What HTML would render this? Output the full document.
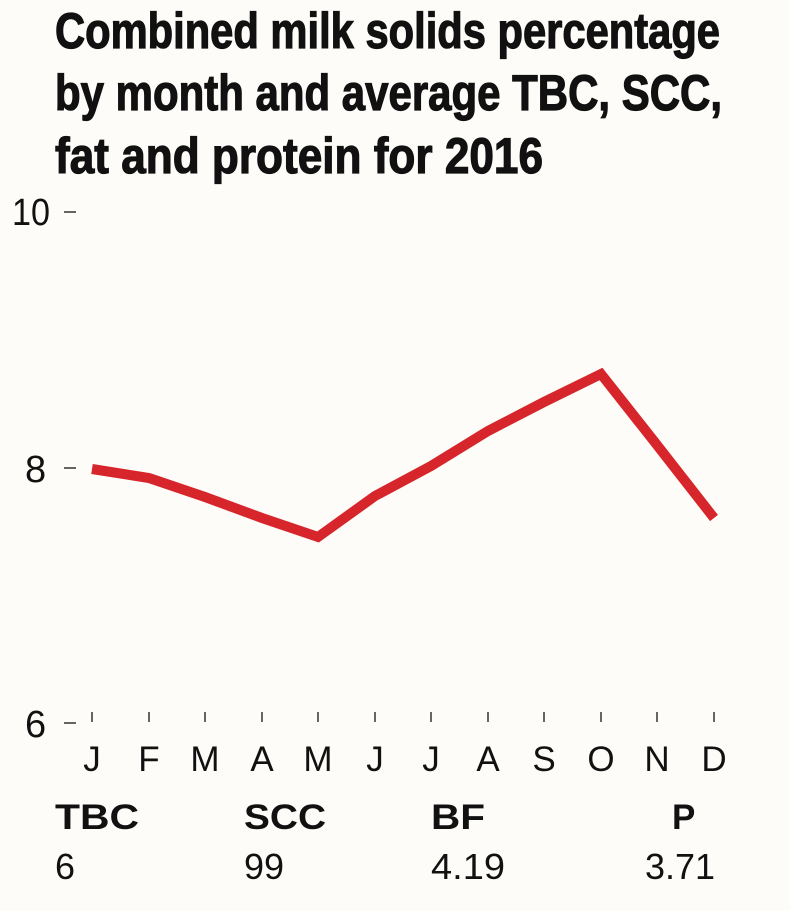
<!DOCTYPE html>
<html><head><style>
html,body{margin:0;padding:0;background:#fdfcf8;}
svg{display:block;}
</style></head><body>
<svg width="790" height="911" viewBox="0 0 790 911" xmlns="http://www.w3.org/2000/svg">
<rect width="790" height="911" fill="#fdfcf8"/>
<g font-family="'Liberation Sans Narrow','Liberation Sans',sans-serif" font-weight="bold" font-size="50" fill="#111" stroke="#111" stroke-width="1.2">
<text x="55" y="48" textLength="665" lengthAdjust="spacingAndGlyphs">Combined milk solids percentage</text>
<text x="55" y="110" textLength="667" lengthAdjust="spacingAndGlyphs">by month and average TBC, SCC,</text>
<text x="55" y="173" textLength="488" lengthAdjust="spacingAndGlyphs">fat and protein for 2016</text>
</g>
<g font-family="'Liberation Sans',sans-serif" font-size="38" fill="#111">
<text x="12" y="225" textLength="38" lengthAdjust="spacingAndGlyphs">10</text>
<text x="25" y="482">8</text>
<text x="25" y="737">6</text>
</g>
<g stroke="#333" stroke-width="1.5">
<line x1="64" y1="212" x2="76" y2="212"/>
<line x1="64" y1="468" x2="76" y2="468"/>
<line x1="64" y1="723" x2="76" y2="723"/>
<line x1="92" y1="712" x2="92" y2="722"/>
<line x1="149" y1="712" x2="149" y2="722"/>
<line x1="205" y1="712" x2="205" y2="722"/>
<line x1="262" y1="712" x2="262" y2="722"/>
<line x1="318" y1="712" x2="318" y2="722"/>
<line x1="375" y1="712" x2="375" y2="722"/>
<line x1="431" y1="712" x2="431" y2="722"/>
<line x1="488" y1="712" x2="488" y2="722"/>
<line x1="544" y1="712" x2="544" y2="722"/>
<line x1="601" y1="712" x2="601" y2="722"/>
<line x1="657" y1="712" x2="657" y2="722"/>
<line x1="714" y1="712" x2="714" y2="722"/>
</g>
<polyline fill="none" stroke="#d7252c" stroke-width="10" stroke-linejoin="miter" points="92,469 149,478 205,497 262,518 318,537 375,496 431,466 488,431 544,402 601,374 657,445 714,518"/>
<g font-family="'Liberation Sans',sans-serif" font-size="35" fill="#111" text-anchor="middle">
<text x="92" y="771">J</text><text x="149" y="771">F</text><text x="205" y="771">M</text>
<text x="262" y="771">A</text><text x="318" y="771">M</text><text x="375" y="771">J</text>
<text x="431" y="771">J</text><text x="488" y="771">A</text><text x="544" y="771">S</text>
<text x="601" y="771">O</text><text x="657" y="771">N</text><text x="714" y="771">D</text>
</g>
<g font-family="'Liberation Sans',sans-serif" font-weight="bold" font-size="35" fill="#111">
<text x="55" y="829" textLength="84" lengthAdjust="spacingAndGlyphs">TBC</text>
<text x="244" y="829" textLength="82" lengthAdjust="spacingAndGlyphs">SCC</text>
<text x="431" y="829" textLength="54" lengthAdjust="spacingAndGlyphs">BF</text>
<text x="672" y="829">P</text>
</g>
<g font-family="'Liberation Sans',sans-serif" font-size="36" fill="#111">
<text x="55" y="879">6</text>
<text x="244" y="879">99</text>
<text x="431" y="879" textLength="74" lengthAdjust="spacingAndGlyphs">4.19</text>
<text x="645" y="879" textLength="70" lengthAdjust="spacingAndGlyphs">3.71</text>
</g>
</svg>
</body></html>
